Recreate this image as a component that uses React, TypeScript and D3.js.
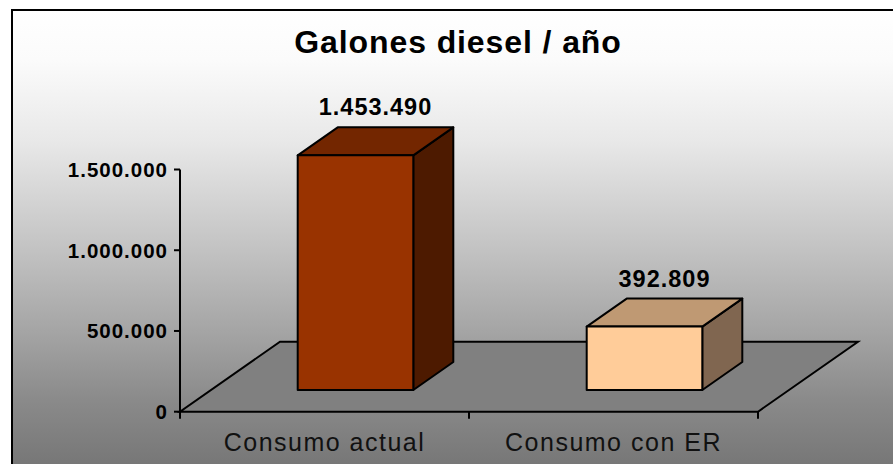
import React from 'react';
import * as d3 from 'd3';

const categories = ['Consumo actual', 'Consumo con ER'];
const values = [1453490, 392809];
const yTicks = [0, 500000, 1000000, 1500000];
const frontColors = ['#993300', '#FFCC99'];
const topColors = ['#732600', '#BF9973'];
const sideColors = ['#4D1A00', '#806650'];

const width = 893;
const height = 464;
const font = '"Liberation Sans", Arial, sans-serif';

// front plane of the floor, plus the depth vector for the 3D effect
const x0 = 180;
const x1 = 758;
const yBase = 411.7;
const yTop = 169.5;
const depthX = 100;
const depthY = -70;
const barFront = 0.31;
const barBack = 0.71;

const fmt = d3.formatLocale({ decimal: ',', thousands: '.', grouping: [3], currency: ['', ''] }).format(',d');

export default function App() {
  const xScale = d3.scaleBand<string>()
    .domain(categories)
    .range([x0, x1])
    .paddingInner(0.6)
    .paddingOuter(0.3);

  const yScale = d3.scaleLinear().domain([0, 1500000]).range([yBase, yTop]);

  const step = xScale.step();
  const boundaries = categories.map((_, i) => x0 + i * step).concat([x1]);

  const floor = [
    [x0, yBase],
    [x1, yBase],
    [x1 + depthX, yBase + depthY],
    [x0 + depthX, yBase + depthY],
  ];

  const fx = depthX * barFront, fy = depthY * barFront;
  const bx = depthX * barBack, by = depthY * barBack;
  const pts = (p: number[][]) => p.map(q => q.join(',')).join(' ');

  return (
    <svg width={width} height={height} style={{ position: 'absolute', left: 0, top: 0 }}>
      <defs>
        <linearGradient id="bg" x1="0" y1="10" x2="0" y2="464" gradientUnits="userSpaceOnUse">
          <stop offset="0" stopColor="#ffffff" />
          <stop offset="0.11" stopColor="#fbfbfb" />
          <stop offset="0.29" stopColor="#e8e8e8" />
          <stop offset="0.53" stopColor="#c2c2c2" />
          <stop offset="0.70" stopColor="#a6a6a6" />
          <stop offset="0.86" stopColor="#8a8a8a" />
          <stop offset="1" stopColor="#777777" />
        </linearGradient>
      </defs>
      <rect x={0} y={0} width={width} height={height} fill="#ffffff" />
      <rect x={12} y={10} width={900} height={470} fill="url(#bg)" stroke="#000" strokeWidth={2} />

      <text x={458} y={53} textAnchor="middle" fontFamily={font} fontWeight="bold" fontSize={32} letterSpacing={0.9}>
        Galones diesel / año
      </text>

      {/* floor */}
      <polygon points={pts(floor)} fill="#808080" stroke="#000" strokeWidth={2} strokeLinejoin="miter" />

      {/* y axis */}
      <line x1={x0} y1={yTop} x2={x0} y2={yBase} stroke="#000" strokeWidth={2} />
      {yTicks.map(t => (
        <g key={t}>
          <line x1={x0 - 6} x2={x0} y1={yScale(t)} y2={yScale(t)} stroke="#000" strokeWidth={2} />
          <text x={168} y={yScale(t) + 7.5} textAnchor="end" fontFamily={font} fontWeight="bold" fontSize={20.5} letterSpacing={1}>
            {fmt(t)}
          </text>
        </g>
      ))}

      {/* x axis ticks */}
      {boundaries.map((b, i) => (
        <line key={i} x1={b} x2={b} y1={yBase} y2={yBase + 7} stroke="#000" strokeWidth={2} />
      ))}
      {categories.map(c => (
        <text key={c} x={xScale(c)! + xScale.bandwidth() / 2} y={451} textAnchor="middle" fontFamily={font} fontSize={25} letterSpacing={1.5} fill="#111">
          {c}
        </text>
      ))}

      {/* bars */}
      {categories.map((c, i) => {
        const l = xScale(c)!;
        const r = l + xScale.bandwidth();
        const yv = yScale(values[i]);
        const front = [[l + fx, yv + fy], [r + fx, yv + fy], [r + fx, yBase + fy], [l + fx, yBase + fy]];
        const top = [[l + fx, yv + fy], [r + fx, yv + fy], [r + bx, yv + by], [l + bx, yv + by]];
        const side = [[r + fx, yv + fy], [r + bx, yv + by], [r + bx, yBase + by], [r + fx, yBase + fy]];
        const cx = (l + r) / 2 + (fx + bx) / 2;
        return (
          <g key={c}>
            <polygon points={pts(side)} fill={sideColors[i]} stroke="#000" strokeWidth={2} strokeLinejoin="round" />
            <polygon points={pts(top)} fill={topColors[i]} stroke="#000" strokeWidth={2} strokeLinejoin="round" />
            <polygon points={pts(front)} fill={frontColors[i]} stroke="#000" strokeWidth={2} strokeLinejoin="round" />
            <text x={cx} y={yv + by - 12} textAnchor="middle" fontFamily={font} fontWeight="bold" fontSize={23.5} letterSpacing={1}>
              {fmt(values[i])}
            </text>
          </g>
        );
      })}
    </svg>
  );
}
